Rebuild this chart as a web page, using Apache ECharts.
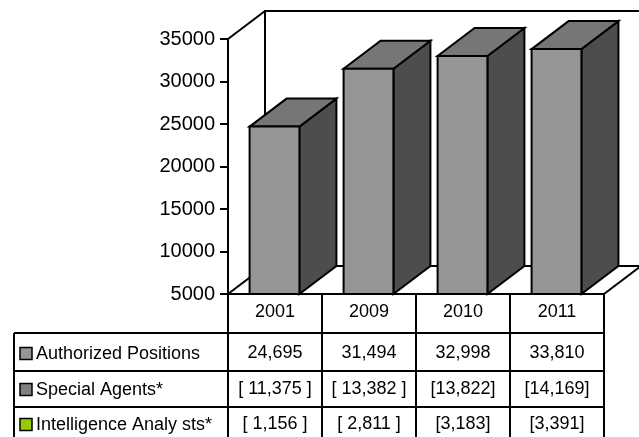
<!DOCTYPE html>
<html><head><meta charset="utf-8">
<script src="https://cdn.jsdelivr.net/npm/echarts@6/dist/echarts.min.js"></script>
<style>html,body{margin:0;padding:0;background:#fff}#c{width:639px;height:437px}</style>
</head><body><div id="c"></div>
<script>
const categories = ['2001', '2009', '2010', '2011'];
const authorizedPositions = [24695, 31494, 32998, 33810];
const specialAgents = [11375, 13382, 13822, 14169];
const intelligenceAnalysts = [1156, 2811, 3183, 3391];
const paddedBrackets = [true, true, false, false];
const rowLabels = ['Authorized Positions', 'Special Agents*', 'Intelligence Analy sts*'];
const rowSwatches = ['#969696', '#808080', '#99cc00'];
const yMin = 5000, yMax = 35000, yStep = 5000;

const FONT = '"Liberation Sans", Arial, sans-serif';
const DX = 37, DY = -28;
function fmt(n) { return String(n).replace(/\B(?=(\d{3})+(?!\d))/g, ','); }
function br(n, pad) { return pad ? '[ ' + fmt(n) + ' ]' : '[' + fmt(n) + ']'; }
const rowTexts = [
  authorizedPositions.map(fmt),
  specialAgents.map((v, i) => br(v, paddedBrackets[i])),
  intelligenceAnalysts.map((v, i) => br(v, paddedBrackets[i]))
];
const rowCenters = [353.5, 389.5, 424.5];
const rowLines = [333, 371, 407];

const chart = echarts.init(document.getElementById('c'), null, {renderer: 'canvas'});
const line = {stroke: '#000', lineWidth: 2, fill: null};

const graphic = [];
rowLines.forEach(y => graphic.push({type: 'line', shape: {x1: 14, y1: y, x2: 604, y2: y}, style: line, z: 10}));
graphic.push({type: 'line', shape: {x1: 14, y1: 333, x2: 14, y2: 440}, style: line, z: 10});
rowLabels.forEach((t, k) => {
  graphic.push({type: 'rect', shape: {x: 20, y: rowCenters[k] - 6, width: 12, height: 12},
    style: {fill: rowSwatches[k], stroke: '#000', lineWidth: 1.5}, z: 10});
  graphic.push({type: 'text', x: 36, y: rowCenters[k] + 0.5,
    style: {text: t, fontSize: 18, fontFamily: FONT, fill: '#000', verticalAlign: 'middle', align: 'left'}, z: 10});
});

chart.setOption({
  animation: false,
  backgroundColor: '#fff',
  grid: {left: 228, right: 35, top: 39, bottom: 143, containLabel: false},
  xAxis: {
    type: 'category', data: categories, boundaryGap: true,
    axisLine: {show: true, lineStyle: {color: '#000', width: 2}},
    axisTick: {show: true, interval: 0, length: 150, lineStyle: {color: '#000', width: 2}},
    axisLabel: {margin: 9, fontSize: 18, color: '#000', fontFamily: FONT},
    splitLine: {show: false}
  },
  yAxis: {
    type: 'value', min: yMin, max: yMax, interval: yStep,
    axisLine: {show: true, lineStyle: {color: '#000', width: 2}},
    axisTick: {show: true, length: 8, lineStyle: {color: '#000', width: 2}},
    axisLabel: {margin: 13, fontSize: 20, color: '#000', fontFamily: FONT, formatter: v => String(v)},
    splitLine: {show: false}
  },
  graphic: graphic,
  series: [
    {
      type: 'custom', name: 'walls', z: 1, silent: true,
      data: [[0, yMin]], encode: {x: 0, y: 1},
      renderItem(params, api) {
        const cs = params.coordSys;
        const x0 = cs.x, y0 = cs.y, x1 = cs.x + cs.width, y1 = cs.y + cs.height;
        return {type: 'group', children: [
          {type: 'polyline', shape: {points: [[x0 + DX, y1 + DY], [x0 + DX, y0 + DY], [x1 + DX, y0 + DY], [x1 + DX, y1 + DY]]}, style: line},
          {type: 'line', shape: {x1: x0, y1: y0, x2: x0 + DX, y2: y0 + DY}, style: line},
          {type: 'polyline', shape: {points: [[x0, y1], [x0 + DX, y1 + DY], [x1 + DX, y1 + DY]]}, style: line},
          {type: 'line', shape: {x1: x1, y1: y1, x2: x1 + DX, y2: y1 + DY}, style: line}
        ]};
      }
    },
    {
      type: 'custom', name: 'Authorized Positions', z: 3,
      data: authorizedPositions.map((v, i) => [i, v]), encode: {x: 0, y: 1},
      renderItem(params, api) {
        const i = api.value(0), v = api.value(1);
        const top = api.coord([i, v]), base = api.coord([i, yMin]);
        const bw = api.size([1, 0])[0] * 0.53;
        const x0 = top[0] - bw / 2 - 0.5, x1 = x0 + bw, ty = top[1], by = base[1];
        const st = {stroke: '#000', lineWidth: 2, lineJoin: 'miter'};
        return {type: 'group', children: [
          {type: 'polygon', shape: {points: [[x1, ty], [x1 + DX, ty + DY], [x1 + DX, by + DY], [x1, by]]}, style: Object.assign({}, st, {fill: '#4d4d4d'})},
          {type: 'polygon', shape: {points: [[x0, ty], [x0 + DX, ty + DY], [x1 + DX, ty + DY], [x1, ty]]}, style: Object.assign({}, st, {fill: '#767676'})},
          {type: 'rect', shape: {x: x0, y: ty, width: bw, height: by - ty}, style: Object.assign({}, st, {fill: '#969696'})}
        ]};
      }
    },
    {
      type: 'custom', name: 'table', z: 5, silent: true,
      data: categories.map((c, i) => [i, yMin]), encode: {x: 0, y: 1},
      renderItem(params, api) {
        const i = api.value(0);
        const x = api.coord([i, yMin])[0];
        return {type: 'group', children: rowTexts.map((r, k) => ({
          type: 'text', x: x, y: rowCenters[k],
          style: {text: r[i], align: 'center', verticalAlign: 'middle', fontSize: 18, fontFamily: FONT, fill: '#000'}
        }))};
      }
    }
  ]
});
</script></body></html>
